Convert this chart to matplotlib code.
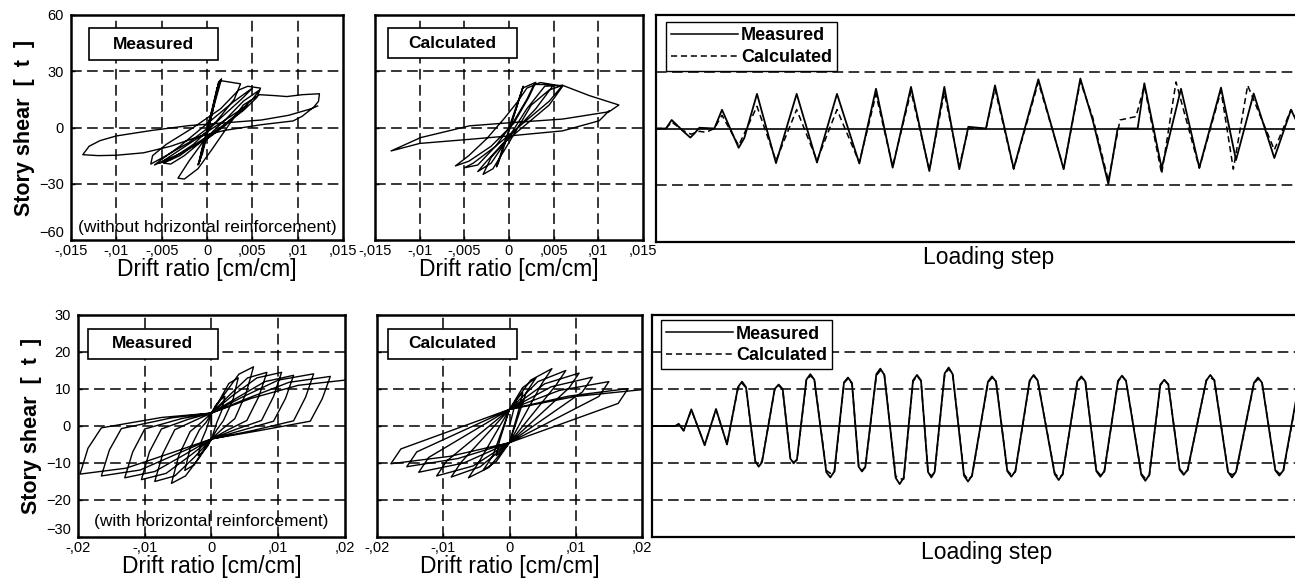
import matplotlib
matplotlib.use("Agg")
import matplotlib.pyplot as plt
from matplotlib.lines import Line2D
from matplotlib.patches import Rectangle

plt.rcParams['font.family'] = ['Liberation Sans', 'DejaVu Sans']

# ---------------- data ----------------
# top row: wall without horizontal reinforcement (drift ratio, story shear [t])
hyst_top_meas = [
    (0.0, 0.0), (0.0006, 10), (0.0011, 20), (0.0015, 25.5), (0.0010, 17), (0.0001, 0),
    (-0.0006, -12), (-0.0009, -19.5), (-0.0004, -10), (0.0004, 5), (0.0012, 22), (0.0016, 26),
    (0.0008, 12), (-0.0002, -6), (-0.0010, -20), (-0.0005, -14), (0.0005, 6), (0.0013, 24.5),
    (0.0003, 2), (-0.0008, -18), (-0.0003, -8), (0.0011, 21), (0.0015, 25),
    (0.0037, 23.3), (0.0030, 15), (0.0010, 3), (-0.0020, -8), (-0.0045, -15), (-0.0062, -19.5),
    (-0.0060, -15), (-0.0045, -9), (-0.0015, 0), (0.0015, 10), (0.0035, 20), (0.0045, 22),
    (0.0059, 21), (0.0055, 16), (0.0040, 9), (0.0015, 0), (-0.0010, -8), (-0.0030, -15),
    (-0.0048, -19), (-0.0040, -19.5), (-0.0025, -15), (0.0, -5), (0.0020, 4), (0.0040, 14),
    (0.0058, 20), (0.0050, 15), (0.0030, 6), (0.0, -6), (-0.0030, -14), (-0.0058, -20),
    (-0.0050, -17), (-0.0030, -10), (0.0, 2), (0.0030, 14), (0.0050, 21), (0.0040, 16),
    (0.0015, 5), (-0.0015, -9), (-0.0040, -17), (-0.0052, -19),
    (0.0045, 12), (0.0020, 1), (-0.0005, -8), (-0.0020, -18), (-0.0032, -27),
    (-0.0025, -27.5), (-0.0010, -22), (0.0005, -12), (0.0015, -5), (0.0025, 2), (0.0040, 12),
    (0.0058, 17.5), (0.0075, 17), (0.0088, 16.5), (0.0105, 17.5), (0.0124, 18), (0.0123, 14),
    (0.0118, 11), (0.0105, 6), (0.0095, 3.5), (0.0060, 1.5), (0.0020, -1.5), (-0.0010, -5),
    (-0.0040, -10), (-0.0070, -13.5), (-0.0100, -14.8), (-0.0120, -15), (-0.0137, -14.5),
    (-0.0130, -10), (-0.0118, -7), (-0.0100, -4.5), (-0.0060, -1.5), (-0.0020, 1), (0.0020, 2.5),
    (0.0060, 4), (0.0090, 6.5), (0.0115, 10), (0.0122, 11.5),
]
hyst_top_calc = [
    (0.0, 0.0), (0.0008, 11), (0.0014, 19), (0.0016, 22), (0.0008, 10), (-0.0004, -8),
    (-0.0012, -19), (-0.0014, -21), (-0.0005, -8), (0.0008, 10), (0.0015, 21), (0.0030, 24.1),
    (0.0022, 16), (0.0005, 2), (-0.0020, -10), (-0.0045, -18), (-0.0060, -20.5), (-0.0045, -15),
    (-0.0025, -6), (-0.0005, 5), (0.0010, 14), (0.0020, 21), (0.0035, 24.0), (0.0060, 22.0),
    (0.0045, 12), (0.0020, 2), (-0.0005, -8), (-0.0020, -16), (-0.0029, -25.0), (-0.0018, -22),
    (-0.0005, -12), (0.0010, 0), (0.0025, 12), (0.0045, 20), (0.0060, 22.5),
    (0.0045, 14), (0.0015, 2), (-0.0015, -10), (-0.0040, -19), (-0.0050, -21.5), (-0.0035, -20),
    (-0.0015, -10), (0.0005, 3), (0.0020, 15), (0.0028, 23), (0.0050, 22.8), (0.0030, 10),
    (0.0, -5), (-0.0025, -18), (-0.0035, -23.5), (-0.0020, -19), (0.0, -5), (0.0020, 10),
    (0.0040, 22), (0.0060, 22.5), (0.0090, 17),
    (0.0123, 12.0), (0.0112, 8.4), (0.0060, 4.5), (0.0, 2.5), (-0.0044, 0.9), (-0.0099, -5.4),
    (-0.0132, -12.5), (-0.0100, -8.5), (-0.0044, -6.3), (0.0, -4.5), (0.0060, -1.8),
    (0.0101, 3.6), (0.0112, 8.9),
]

top_meas_step = [0, 30, 47, 85, 103, 115, 130, 175, 198, 248, 265, 303, 360, 422, 483, 543, 610,
                 660, 710, 765, 820, 865, 910, 937, 990, 1017, 1073, 1147, 1223, 1273, 1310, 1357,
                 1385, 1445, 1465, 1517, 1575, 1630, 1695, 1740, 1793, 1855, 1905, 1935]
top_meas_val = [0, 0, 4.5, -2, -4.8, -2.7, 0.4, 0, 9.9, -10.2, -5, 18.3, -18.3, 18.3, -18, 18.3, -18.5,
                21, -20.7, 22, -22.5, 22, -21.5, 0.9, 0, 22.8, -21.2, 26, -21.5, 26.4, 4.5, -29.3,
                0, 0, 23.9, -21, 21, -20.7, 21.6, -16.7, 18.5, -15.6, 9.9, -1]
top_calc_step = [0, 30, 47, 80, 105, 130, 150, 175, 198, 248, 303, 360, 422, 483, 543, 610, 660,
                 710, 765, 820, 865, 910, 937, 990, 1017, 1073, 1147, 1223, 1273, 1310, 1357, 1385,
                 1392, 1440, 1465, 1517, 1560, 1630, 1695, 1732, 1775, 1855, 1905, 1935]
top_calc_val = [0, 0, 3.5, -1, -3, -1.5, -2, 0, 7, -9, 11.7, -17, 10, -17, 10, -18, 18,
                -20, 19.7, -22, 19, -20, 0, 0, 21, -21.5, 24.5, -21, 25, 6, -27.5, -2,
                4.5, 6.3, 22.5, -24, 24.6, -21, 20, -21.5, 22.8, -11.3, 10, 0]

# bottom row: wall with horizontal reinforcement
hyst_bot_meas = [
    (0.0, 0.0), (0.0, 3.5),
    (0.0006, 5.5), (0.0013, 7), (0.002, 8), (0.0015, 4), (0.0008, 1), (0.0, -3.5),
    (-0.0006, -5.5), (-0.0013, -7), (-0.002, -8), (-0.0015, -4), (-0.0008, -1), (0.0, 3.5),
    (0.0012, 7), (0.0026, 11.5), (0.004, 13), (0.0032, 7), (0.0018, 1.5), (0.0008, -1), (0.0, -3.5),
    (-0.0012, -6.5), (-0.0026, -10.5), (-0.004, -12), (-0.0032, -6), (-0.0018, -1), (-0.0008, 1), (0.0, 3.5),
    (0.0019, 8.5), (0.0041, 14), (0.0063, 16), (0.0052, 9), (0.0035, 2), (0.0015, -1), (0.0, -3.5),
    (-0.0018, -8.5), (-0.0039, -13.5), (-0.006, -15.5), (-0.0049, -8), (-0.0032, -1.5), (-0.0015, 1), (0.0, 3.5),
    (0.0025, 8), (0.0054, 13), (0.0083, 14.5), (0.0071, 8), (0.0053, 1.5), (0.0025, -1), (0.0, -3.5),
    (-0.0026, -8.5), (-0.0055, -13.5), (-0.0085, -15), (-0.0073, -7.5), (-0.0055, -1), (-0.0025, 1.5), (0.0, 3.5),
    (0.003, 8), (0.0068, 13), (0.0105, 14.5), (0.0093, 8), (0.0075, 1.5), (0.0035, -1), (0.0, -3.5),
    (-0.0032, -8), (-0.0068, -12.8), (-0.0105, -14.5), (-0.0093, -7), (-0.0075, -0.8), (-0.0035, 1.8), (0.0, 3.5),
    (0.0037, 7.5), (0.008, 12), (0.0123, 13.7), (0.0111, 7.5), (0.0093, 1.3), (0.0045, -1.2), (0.0, -3.5),
    (-0.004, -7.7), (-0.0085, -12.3), (-0.013, -14), (-0.0118, -7), (-0.01, -0.8), (-0.0045, 2), (0.0, 3.5),
    (0.0046, 7.8), (0.01, 12.4), (0.0153, 14.1), (0.0141, 7.8), (0.0123, 1.4), (0.006, -1.3), (0.0, -3.5),
    (-0.005, -7.4), (-0.0107, -11.9), (-0.0165, -13.5), (-0.0153, -6.5), (-0.0135, -0.7), (-0.006, 2.2), (0.0, 3.5),
    (0.0053, 7.4), (0.0116, 11.8), (0.0178, 13.4), (0.0166, 7.4), (0.0148, 1.3), (0.007, -1.3), (0.0, -3.5),
    (-0.0059, -7.2), (-0.0128, -11.4), (-0.0197, -13), (-0.0185, -6), (-0.0165, -0.5), (-0.0075, 2.3), (0.0, 3.5),
    (0.006, 7.5), (0.013, 11), (0.0205, 12.5),
]
hyst_bot_calc = [
    (0.0, 0.0), (0.001, 7), (0.002, 9), (0.0015, 5), (0.0, -4.5), (-0.001, -6.5), (-0.002, -8), (-0.0015, -4), (0.0, 4.5),
    (0.002, 10.4), (0.004, 13), (0.0025, 9), (0.0, -4.5), (-0.002, -9.6), (-0.004, -12), (-0.0025, -8), (0.0, 4.5),
    (0.0032, 12.4), (0.0064, 15.5), (0.0049, 11.5), (0.0, -4.5), (-0.0031, -11.2), (-0.0062, -14), (-0.0047, -10), (0.0, 4.5),
    (0.0043, 12), (0.0085, 15), (0.007, 11), (0.0, -4.5), (-0.0044, -11), (-0.0088, -13.8), (-0.0073, -9.8), (0.0, 4.5),
    (0.0053, 11.4), (0.0105, 14.3), (0.009, 10.3), (0.0, -4.5), (-0.0055, -10.8), (-0.011, -13.5), (-0.0095, -9.5), (0.0, 4.5),
    (0.0063, 10.6), (0.0125, 13.2), (0.011, 9.2), (0.0, -4.5), (-0.0069, -10), (-0.0137, -12.5), (-0.0122, -8.5), (0.0, 4.5),
    (0.0075, 9.6), (0.015, 12), (0.0135, 8), (0.0, -4.5), (-0.0078, -8.8), (-0.0155, -11), (-0.014, -7), (0.0, 4.5),
    (0.009, 8.1), (0.0179, 10.1), (0.0164, 6.1), (0.0, -4.5), (-0.009, -8.2), (-0.0179, -10.2), (-0.0164, -6.2), (0.0, 4.5),
    (0.01, 8), (0.021, 10),
]

bot_step = [0, 70, 80, 95, 118, 158, 192, 225,
            258, 270, 282, 310, 320, 330, 368, 380, 392, 415, 425, 435, 463, 475, 487,
            523, 535, 547, 576, 588, 600, 620, 630, 640, 673, 685, 697, 731, 743, 755,
            783, 795, 807, 828, 838, 848, 878, 890, 902, 936, 948, 960, 1008, 1020, 1032,
            1066, 1078, 1090, 1133, 1145, 1157, 1208, 1220, 1232, 1276, 1288, 1300,
            1333, 1345, 1357, 1398, 1410, 1422, 1468, 1480, 1492, 1525, 1537, 1549,
            1583, 1595, 1607, 1663, 1675, 1687, 1728, 1740, 1752, 1806, 1818, 1830,
            1870, 1882, 1894, 1940]
bot_meas_val = [0, 0, 0.6, -1.3, 4.5, -5.2, 4.6, -5,
                10.5, 12, 10.5, -9.5, -11, -9.8, 10, 11.2, 10, -8.8, -10.1, -9, 12.5, 14, 12.5,
                -12.5, -13.9, -12.3, 11.8, 13.1, 11.6, -11, -12.3, -11, 14, 15.5, 13.8, -14, -15.7, -14,
                12.3, 13.8, 12.3, -12.4, -13.9, -12.4, 14.2, 15.8, 14, -13.4, -15, -13.4, 12, 13.4, 12,
                -12.2, -13.7, -12.2, 12.3, 13.8, 12.3, -13, -14.6, -13, 12, 13.4, 12,
                -12.2, -13.7, -12.2, 12.2, 13.6, 12.2, -13.2, -14.8, -13.2, 11.2, 12.5, 11.2,
                -11.8, -13.2, -11.8, 12.3, 13.8, 12.3, -12.4, -13.9, -12.4, 11.7, 13.1, 11.7,
                -12, -13.4, -12, 11]
bot_calc_val = [0, 0, 0.5, -1.2, 4.3, -5, 4.4, -4.8,
                10.2, 11.6, 10.3, -9.8, -10.5, -9.5, 9.8, 11, 9.8, -8.6, -9.8, -9.2, 12.2, 13.6, 12.6,
                -12, -12.8, -12.6, 11.6, 12.8, 11.4, -10.8, -12, -11.2, 13.6, 15, 13.9, -13.6, -14.2, -14.4,
                12, 13.5, 12.2, -12.2, -13.5, -12.6, 13.9, 15.4, 14.1, -13, -14.5, -13.6, 11.8, 13, 12.1,
                -12, -13.2, -12.4, 12.1, 13.5, 12.4, -12.7, -14, -13.2, 11.8, 13.1, 12.1,
                -12, -13.2, -12.4, 12, 13.4, 12.3, -12.9, -14.2, -13.4, 11, 12.3, 11.3,
                -11.6, -12.8, -12, 12.4, 13, 12.5, -12.3, -13.2, -12.6, 11.5, 12.7, 11.8,
                -11.8, -12.9, -12.2, 10.5]
assert len(bot_step) == len(bot_meas_val) == len(bot_calc_val)
assert len(top_meas_step) == len(top_meas_val) and len(top_calc_step) == len(top_calc_val)

top_xticks = [-0.015, -0.01, -0.005, 0, 0.005, 0.01, 0.015]
top_xlabels = ["-,015", "-,01", "-,005", "0", ",005", ",01", ",015"]
bot_xticks = [-0.02, -0.01, 0, 0.01, 0.02]
bot_xlabels = ["-,02", "-,01", "0", ",01", ",02"]
top_yticks = [-60, -30, 0, 30, 60]
bot_yticks = [-30, -20, -10, 0, 10, 20, 30]

# ---------------- figure ----------------
W, H = 1295, 584
fig = plt.figure(figsize=(W / 100, H / 100), dpi=100)


def px_axes(x0, x1, y0, y1):
    return fig.add_axes([x0 / W, 1 - y1 / H, (x1 - x0) / W, (y1 - y0) / H])


GRID = dict(color="black", lw=1.1, ls=(0, (7, 3.5)), zorder=1)


def frame(ax, lw=1.8):
    for s in ax.spines.values():
        s.set_linewidth(lw)
    ax.tick_params(direction="in", length=3, width=1, labelsize=10.5, pad=3)


def boxed(ax, rect, text):
    ax.add_patch(Rectangle(rect[:2], rect[2], rect[3], transform=ax.transAxes,
                           fc="white", ec="black", lw=1.2, zorder=5))
    ax.text(rect[0] + rect[2] / 2, rect[1] + rect[3] / 2, text, transform=ax.transAxes,
            ha="center", va="center", fontsize=12.5, fontweight="bold", zorder=6)


def hyst(ax, pts, xticks, xlabels, yticks, xgrid, ygrid, ylim, show_y):
    ax.plot([p[0] for p in pts], [p[1] for p in pts], color="black", lw=1.0, zorder=3)
    for g in xgrid:
        ax.axvline(g, **GRID)
    for g in ygrid:
        ax.axhline(g, **GRID)
    ax.set_xlim(xticks[0], xticks[-1])
    ax.set_ylim(*ylim)
    ax.set_xticks(xticks)
    ax.set_xticklabels(xlabels)
    ax.set_yticks(yticks)
    if not show_y:
        ax.set_yticklabels([])
    frame(ax)
    ax.tick_params(axis="y", pad=5)
    if show_y:
        # lowest label sits just above the corner, clear of the x labels
        ax.get_yticklabels()[0].set_va("bottom")
    ax.set_xlabel("Drift ratio [cm/cm]", fontsize=16.5, labelpad=0)


def series(ax, steps, meas, calc_steps, calc, ylim, dashed_levels, xmax, leg_anchor):
    for g in dashed_levels:
        ax.axhline(g, **GRID)
    ax.axhline(0, color="black", lw=1.2, zorder=1)
    ax.plot(steps, meas, color="black", lw=1.3, zorder=3)
    ax.plot(calc_steps, calc, color="black", lw=1.1, ls=(0, (4, 2.5)), zorder=3)
    ax.set_xlim(0, xmax)
    ax.set_ylim(*ylim)
    ax.set_xticks([])
    ax.set_yticks([])
    frame(ax, 1.6)
    ax.spines["right"].set_visible(False)
    ax.text(0.516, -0.07, "Loading step", transform=ax.transAxes, ha="center", va="center",
            fontsize=16.5)
    handles = [Line2D([], [], color="black", lw=1.1),
               Line2D([], [], color="black", lw=1.1, ls=(0, (4, 2.5)))]
    leg = ax.legend(handles, ["Measured", "Calculated"], loc="upper left",
                    bbox_to_anchor=leg_anchor, frameon=True, fancybox=False, framealpha=1,
                    edgecolor="black", borderpad=0.3, handlelength=3.7, handletextpad=0.15,
                    labelspacing=0.25, borderaxespad=0, prop=dict(weight="bold", size=13))
    leg.get_frame().set_linewidth(1.0)


# top row
ax1 = px_axes(71, 343, 15, 240)
hyst(ax1, hyst_top_meas, top_xticks, top_xlabels, top_yticks,
     [-0.01, -0.005, 0, 0.005, 0.01], [-30, 0, 30], (-60, 60), True)
ax1.set_ylabel("Story shear  [  t  ]", fontsize=15.5, fontweight="bold", labelpad=3)
boxed(ax1, (0.066, 0.80, 0.474, 0.142), "Measured")
ax1.text(0.5, 0.055, "(without horizontal reinforcement)", transform=ax1.transAxes,
         ha="center", va="center", fontsize=12.5, zorder=6)

ax2 = px_axes(375, 643, 15, 240)
hyst(ax2, hyst_top_calc, top_xticks, top_xlabels, top_yticks,
     [-0.01, -0.005, 0, 0.005, 0.01], [-30, 0, 30], (-60, 60), False)
boxed(ax2, (0.049, 0.809, 0.481, 0.133), "Calculated")

ax3 = px_axes(656, 1300, 15, 242)
series(ax3, top_meas_step, top_meas_val, top_calc_step, top_calc_val, (-60, 60), [-30, 30], 1932,
       (0.0155, 0.969))

# bottom row
ax4 = px_axes(78, 345, 315, 537)
hyst(ax4, hyst_bot_meas, bot_xticks, bot_xlabels, bot_yticks,
     [-0.01, 0, 0.01], [-20, -10, 0, 10, 20], (-30, 30), True)
ax4.set_ylabel("Story shear  [  t  ]", fontsize=15.5, fontweight="bold", labelpad=3)
boxed(ax4, (0.037, 0.802, 0.487, 0.135), "Measured")
ax4.text(0.5, 0.07, "(with horizontal reinforcement)", transform=ax4.transAxes,
         ha="center", va="center", fontsize=12.5, zorder=6)

ax5 = px_axes(377, 642, 315, 537)
hyst(ax5, hyst_bot_calc, bot_xticks, bot_xlabels, bot_yticks,
     [-0.01, 0, 0.01], [-20, -10, 0, 10, 20], (-30, 30), False)
boxed(ax5, (0.042, 0.802, 0.486, 0.135), "Calculated")

ax6 = px_axes(652, 1300, 315, 537)
series(ax6, bot_step, bot_meas_val, bot_step, bot_calc_val, (-30, 30), [-20, -10, 10, 20], 1944,
       (0.014, 0.977))

fig.savefig("out.png", dpi=100)
